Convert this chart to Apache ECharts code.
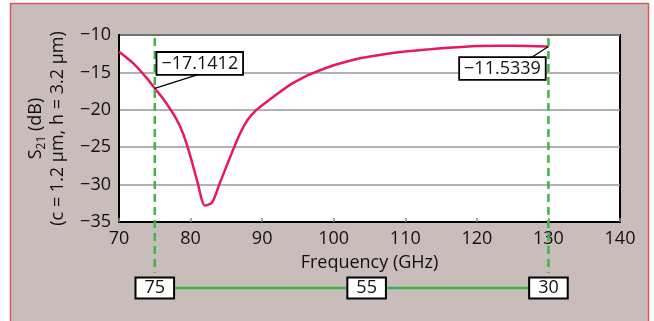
<!DOCTYPE html>
<html><head><meta charset="utf-8">
<script src="https://cdn.jsdelivr.net/npm/echarts@6/dist/echarts.min.js"></script>
<style>html,body{margin:0;padding:0;background:#fff}#c{width:654px;height:321px}</style>
</head><body><div id="c"></div>
<script>
// S21 response of the filter over frequency
const freq = [70,72,74,75,76,78,79,80,81,82,83,84,85,86,87,88,89,90,92,94,96,98,100,102,104,106,108,110,113,116,120,123,127,130];
const s21  = [-12.25,-13.8,-15.9,-17.1412,-18.3,-21.2,-23.3,-26.3,-29.8,-32.8,-32.4,-30.0,-27.6,-25.2,-23.0,-21.3,-20.2,-19.4,-17.95,-16.6,-15.55,-14.75,-14.05,-13.5,-13.05,-12.73,-12.45,-12.22,-11.95,-11.7,-11.46,-11.43,-11.46,-11.5339];

// Cursor readouts and band annotation
const markerFreq = [75, 130];
const markerDb = [-17.1412, -11.5339];
const bandLabels = ['75', '55', '30'];
const bandLabelFreq = [75, 104.6, 130];

const xTicks = { min: 70, max: 140, step: 10 };
const yTicks = { min: -35, max: -10, step: 5 };

const FONT = 'Open Sans';
const minus = v => String(v).replace('-', '\u2212');

const chart = echarts.init(document.getElementById('c'), null, { renderer: 'canvas' });

chart.setOption({
  animation: false,
  backgroundColor: '#ffffff',
  textStyle: { fontFamily: FONT },
  grid: {
    left: 119, top: 35, right: 34, bottom: 99,
    show: true, backgroundColor: '#ffffff', borderColor: '#000', borderWidth: 2
  },
  xAxis: {
    type: 'value', min: xTicks.min, max: xTicks.max, interval: xTicks.step,
    name: 'Frequency (GHz)', nameLocation: 'middle', nameGap: 32,
    nameTextStyle: { fontSize: 18, color: '#111', fontFamily: FONT },
    axisLine: { show: true, lineStyle: { color: '#000', width: 2 } },
    axisTick: { show: true, inside: true, length: 4, lineStyle: { color: '#888', width: 1.5 } },
    axisLabel: { fontSize: 18, color: '#111', margin: 8, fontFamily: FONT },
    splitLine: { show: false }
  },
  yAxis: {
    type: 'value', min: yTicks.min, max: yTicks.max, interval: yTicks.step,
    name: '{a|S}{sub|21}{a| (dB)}\n{a|(c = 1.2 \u03bcm, h = 3.2 \u03bcm)}',
    nameLocation: 'middle', nameGap: 47, nameRotate: 90,
    nameTextStyle: {
      color: '#111', fontFamily: FONT, lineHeight: 22,
      rich: {
        a: { fontSize: 18, color: '#111', fontFamily: FONT, lineHeight: 22 },
        sub: { fontSize: 12, color: '#111', fontFamily: FONT, lineHeight: 22, verticalAlign: 'bottom', padding: [6, 0, 0, 0] }
      }
    },
    axisLine: { show: true, lineStyle: { color: '#000', width: 2 } },
    axisTick: { show: false },
    axisLabel: { fontSize: 18, color: '#111', margin: 8, fontFamily: FONT, formatter: v => minus(v) },
    splitLine: { show: true, lineStyle: { color: '#999', width: 1.5 } }
  },
  series: [{
    type: 'line',
    data: freq.map((f, i) => [f, s21[i]]),
    showSymbol: false,
    smooth: 0.25,
    lineStyle: { color: '#e8195a', width: 2.5 },
    z: 3
  }]
});

function drawAnnotations() {
  const px = (x, y) => chart.convertToPixel({ gridIndex: 0 }, [x, y]);
  const top = px(xTicks.min, yTicks.max)[1];
  const g = [];

  // outer panel with red rim
  g.push({ type: 'rect', z: -10, silent: true,
    shape: { x: 10.5, y: 3.5, width: 638, height: 330 },
    style: { fill: '#c9bdbc', stroke: '#e0555b', lineWidth: 1.5 } });

  const bandY = 288;
  const left = px(bandLabelFreq[0], yTicks.min)[0];
  const right = px(bandLabelFreq[2], yTicks.min)[0];
  g.push({ type: 'line', z: 5, shape: { x1: left, y1: bandY, x2: right, y2: bandY },
    style: { stroke: '#3db54a', lineWidth: 2.5 } });

  markerFreq.forEach(f => {
    const x = px(f, yTicks.min)[0];
    g.push({ type: 'line', z: 5, shape: { x1: x, y1: top + 3, x2: x, y2: bandY - 15 },
      style: { stroke: '#3db54a', lineWidth: 2.5, lineDash: [8, 5] } });
  });

  bandLabels.forEach((t, i) => {
    const x = px(bandLabelFreq[i], yTicks.min)[0];
    g.push({ type: 'text', z: 10, x: x, y: bandY,
      style: { text: t, fontSize: 18, fontFamily: FONT, fill: '#111', align: 'center', verticalAlign: 'middle',
        backgroundColor: '#fff', borderColor: '#000', borderWidth: 2, padding: [1, 8, 0, 8] } });
  });

  // value readouts with leader lines
  const offsets = [ { box: [45, -25], anchor: [44, -14] }, { box: [-46, 22], anchor: [-17, 11] } ];
  markerFreq.forEach((f, i) => {
    const p = px(f, markerDb[i]);
    const o = offsets[i];
    g.push({ type: 'line', z: 8, shape: { x1: p[0], y1: p[1], x2: p[0] + o.anchor[0], y2: p[1] + o.anchor[1] },
      style: { stroke: '#000', lineWidth: 1.2 } });
    g.push({ type: 'text', z: 10, x: p[0] + o.box[0], y: p[1] + o.box[1],
      style: { text: minus(markerDb[i].toFixed(4)), fontSize: 18, fontFamily: FONT, fill: '#111',
        align: 'center', verticalAlign: 'middle',
        backgroundColor: '#fff', borderColor: '#000', borderWidth: 1.8, padding: [2, 4, 1, 4] } });
  });

  chart.setOption({ graphic: g });
}
drawAnnotations();
</script></body></html>
